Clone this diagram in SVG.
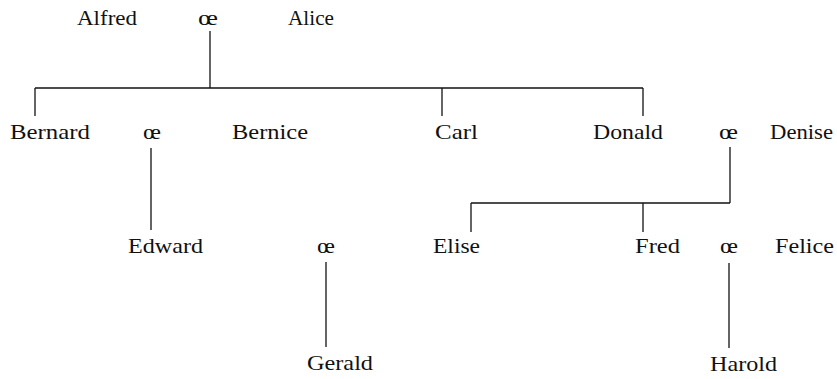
<svg xmlns="http://www.w3.org/2000/svg" width="837" height="379" viewBox="0 0 837 379">
<style>
.c line{stroke:#111;stroke-width:1.3;fill:none}
</style>
<rect width="837" height="379" fill="#fff"/>
<g class="c" id="connectors">
<line x1="210" y1="31" x2="210" y2="88"/>
<line x1="35" y1="88" x2="643" y2="88"/>
<line x1="35" y1="88" x2="35" y2="116"/>
<line x1="442" y1="88" x2="442" y2="116"/>
<line x1="643" y1="88" x2="643" y2="116"/>
<line x1="151" y1="148" x2="151" y2="230"/>
<line x1="730" y1="147" x2="730" y2="203"/>
<line x1="471" y1="203" x2="730" y2="203"/>
<line x1="471" y1="203" x2="471" y2="232"/>
<line x1="643" y1="203" x2="643" y2="232"/>
<line x1="326" y1="262" x2="326" y2="347"/>
<line x1="729" y1="263" x2="729" y2="348"/>
</g>
<g font-family="Liberation Serif, DejaVu Serif, serif" font-size="22" fill="#111">
<g id="alfred"><text x="77" y="25" textLength="60" lengthAdjust="spacingAndGlyphs">Alfred</text></g>
<g id="m1"><text x="198" y="25" textLength="20" lengthAdjust="spacingAndGlyphs">œ</text></g>
<g id="alice"><text x="288" y="25" textLength="46" lengthAdjust="spacingAndGlyphs">Alice</text></g>
<g id="bernard"><text x="10" y="139" textLength="80" lengthAdjust="spacingAndGlyphs">Bernard</text></g>
<g id="m2"><text x="143" y="139" textLength="18" lengthAdjust="spacingAndGlyphs">œ</text></g>
<g id="bernice"><text x="232" y="139" textLength="76" lengthAdjust="spacingAndGlyphs">Bernice</text></g>
<g id="carl"><text x="435" y="139" textLength="43" lengthAdjust="spacingAndGlyphs">Carl</text></g>
<g id="donald"><text x="593" y="139" textLength="70" lengthAdjust="spacingAndGlyphs">Donald</text></g>
<g id="m3"><text x="719" y="139" textLength="19" lengthAdjust="spacingAndGlyphs">œ</text></g>
<g id="denise"><text x="770" y="139" textLength="63" lengthAdjust="spacingAndGlyphs">Denise</text></g>
<g id="edward"><text x="128" y="253" textLength="75" lengthAdjust="spacingAndGlyphs">Edward</text></g>
<g id="m4"><text x="317" y="253" textLength="18" lengthAdjust="spacingAndGlyphs">œ</text></g>
<g id="elise"><text x="433" y="253" textLength="47" lengthAdjust="spacingAndGlyphs">Elise</text></g>
<g id="fred"><text x="635" y="253" textLength="45" lengthAdjust="spacingAndGlyphs">Fred</text></g>
<g id="m5"><text x="720" y="253" textLength="18" lengthAdjust="spacingAndGlyphs">œ</text></g>
<g id="felice"><text x="775" y="253" textLength="59" lengthAdjust="spacingAndGlyphs">Felice</text></g>
<g id="gerald"><text x="307" y="370" textLength="66" lengthAdjust="spacingAndGlyphs">Gerald</text></g>
<g id="harold"><text x="710" y="371" textLength="67" lengthAdjust="spacingAndGlyphs">Harold</text></g>
</g>
</svg>
